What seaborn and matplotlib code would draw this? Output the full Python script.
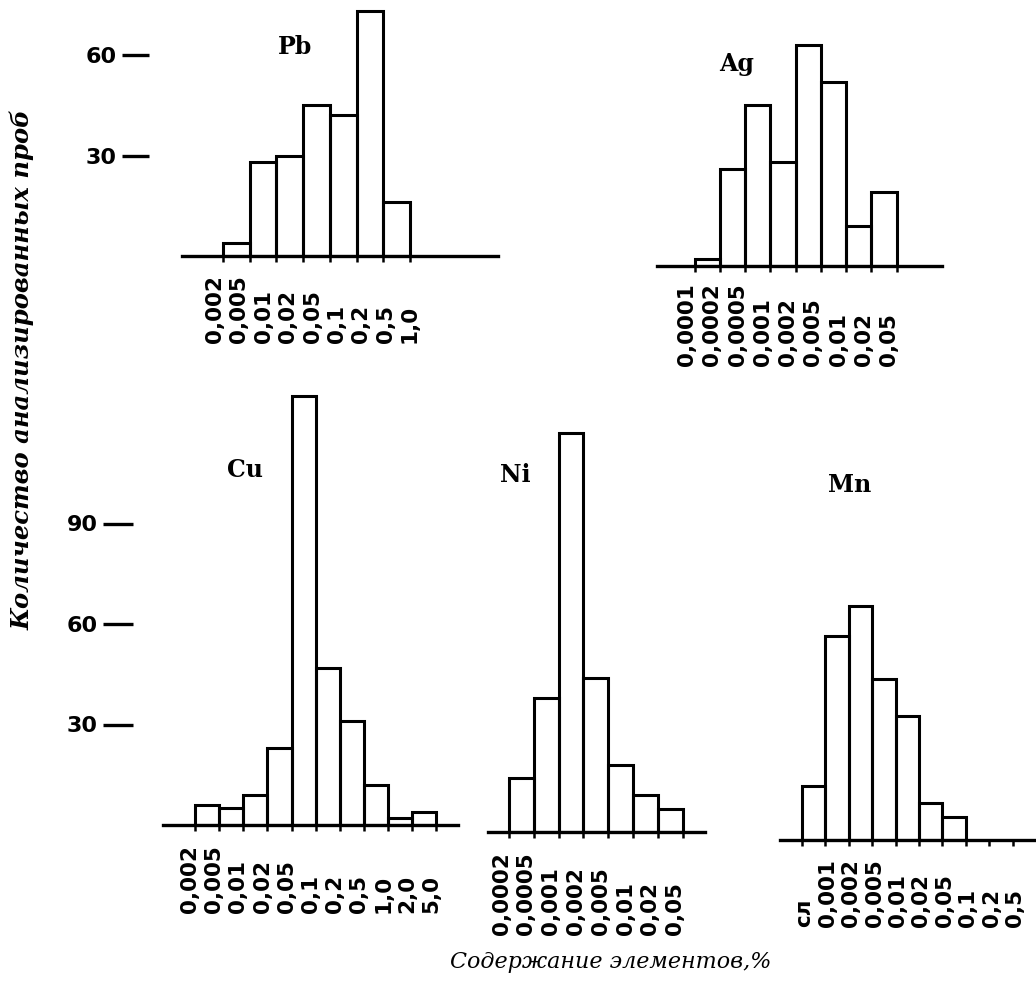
import numpy as np
import pandas as pd
import matplotlib
matplotlib.use('Agg')
import matplotlib.pyplot as plt
import seaborn as sns

# Number of analysed samples per content interval
pb_counts = [4, 28, 30, 45, 42, 73, 16]
pb_labels = ['0,002', '0,005', '0,01', '0,02', '0,05', '0,1', '0,2', '0,5', '1,0']

ag_counts = [2, 29, 48, 31, 66, 55, 12, 22]
ag_labels = ['0,0001', '0,0002', '0,0005', '0,001', '0,002', '0,005', '0,01', '0,02', '0,05']

cu_counts = [6, 5, 9, 23, 128, 47, 31, 12, 2, 4]
cu_labels = ['0,002', '0,005', '0,01', '0,02', '0,05', '0,1', '0,2', '0,5', '1,0', '2,0', '5,0']

ni_counts = [16, 40, 119, 46, 20, 11, 7]
ni_labels = ['0,0002', '0,0005', '0,001', '0,002', '0,005', '0,01', '0,02', '0,05']

mn_counts = [16, 61, 70, 48, 37, 11, 7]
mn_labels = ['сл', '0,001', '0,002', '0,005', '0,01', '0,02', '0,05', '0,1', '0,2', '0,5']

top_ticks = [30, 60]
bottom_ticks = [30, 60, 90]

sns.set_style('white')
plt.rcParams['font.family'] = ['DejaVu Sans']
plt.rcParams['text.color'] = 'black'
plt.rcParams['axes.edgecolor'] = 'black'
plt.rcParams['xtick.color'] = 'black'
plt.rcParams['ytick.color'] = 'black'

W, H = 1036, 983
PX = 3.35  # pixels per sample, same on every panel

fig = plt.figure(figsize=(W / 100, H / 100), dpi=100)


def make_axes(left, right, base, ymax):
    return fig.add_axes([left / W, 1 - base / H, (right - left) / W, ymax * PX / H])


def draw(ax, counts, labels, n_edges, label_pos, drop, name, name_xy, ymax, xlim):
    n = len(counts)
    df = pd.DataFrame({'bin': np.arange(n) + 0.5, 'n': counts})
    sns.histplot(data=df, x='bin', weights='n', bins=n, binrange=(0, n), fill=False,
                 color='black', linewidth=2.2, ax=ax)
    ax.set_xlim(*xlim)
    ax.set_ylim(0, ymax)
    ax.set_xlabel('')
    ax.set_ylabel('')
    for side in ['top', 'right', 'left']:
        ax.spines[side].set_visible(False)
    ax.spines['bottom'].set_linewidth(2.4)
    ax.set_xticks(np.arange(n_edges), labels=[''] * n_edges)
    ax.tick_params(axis='x', direction='out', length=4, width=1.8, bottom=True)
    ax.set_yticks([])
    for pos, lab in zip(label_pos, labels):
        ax.text(pos, -drop / PX, lab, rotation=90, ha='center', va='bottom',
                fontsize=15.5, fontweight='bold', clip_on=False)
    fig.text(name_xy[0] / W, 1 - name_xy[1] / H, name, ha='center', va='center',
             fontsize=17, fontweight='bold', family='DejaVu Serif')


def add_scale(ax, ticks, outward_px, length_px):
    # move the (hidden) left spine first: this resets the ticks
    ax.spines['left'].set_position(('outward', outward_px * 0.72))
    ax.set_yticks(ticks, labels=[str(t) for t in ticks])
    ax.tick_params(axis='y', left=True, direction='out', length=length_px * 0.72,
                   width=2.4, pad=4, labelsize=16)
    for lab in ax.get_yticklabels():
        lab.set_fontweight('bold')


# top row
ax_pb = make_axes(182, 498, 256, 76)
draw(ax_pb, pb_counts, pb_labels, 8, np.linspace(-0.3, 7, len(pb_labels)), 87,
     'Pb', (295, 47), 76, (-1.54, 10.3))
add_scale(ax_pb, top_ticks, 33, 27)

ax_ag = make_axes(657, 942, 266, 76)
draw(ax_ag, ag_counts, ag_labels, 9, np.arange(len(ag_labels)) - 0.3, 100,
     'Ag', (737, 64), 76, (-1.5, 9.8))

# bottom row
ax_cu = make_axes(163, 458, 825, 132)
draw(ax_cu, cu_counts, cu_labels, 11, np.arange(len(cu_labels)) - 0.2, 88,
     'Cu', (245, 470), 132, (-1.33, 10.9))
add_scale(ax_cu, bottom_ticks, 30, 30)

ax_ni = make_axes(488, 705, 832, 132)
draw(ax_ni, ni_counts, ni_labels, 8, np.arange(len(ni_labels)) - 0.3, 103,
     'Ni', (515, 475), 132, (-0.85, 7.9))

ax_mn = make_axes(780, 1036, 840, 132)
draw(ax_mn, mn_counts, mn_labels, 10, np.arange(len(mn_labels)) + 0.1, 87,
     'Mn', (850, 485), 132, (-0.94, 10.0))

fig.text(22 / W, 1 - 370 / H, 'Количество анализированных проб', rotation=90,
         ha='center', va='center', fontsize=17.5, style='italic', fontweight='bold',
         family='DejaVu Serif')
fig.text(611 / W, 1 - 962 / H, 'Содержание элементов,%', ha='center', va='center',
         fontsize=16, style='italic', family='DejaVu Serif')

plt.savefig('out.png', dpi=100, facecolor='white')
